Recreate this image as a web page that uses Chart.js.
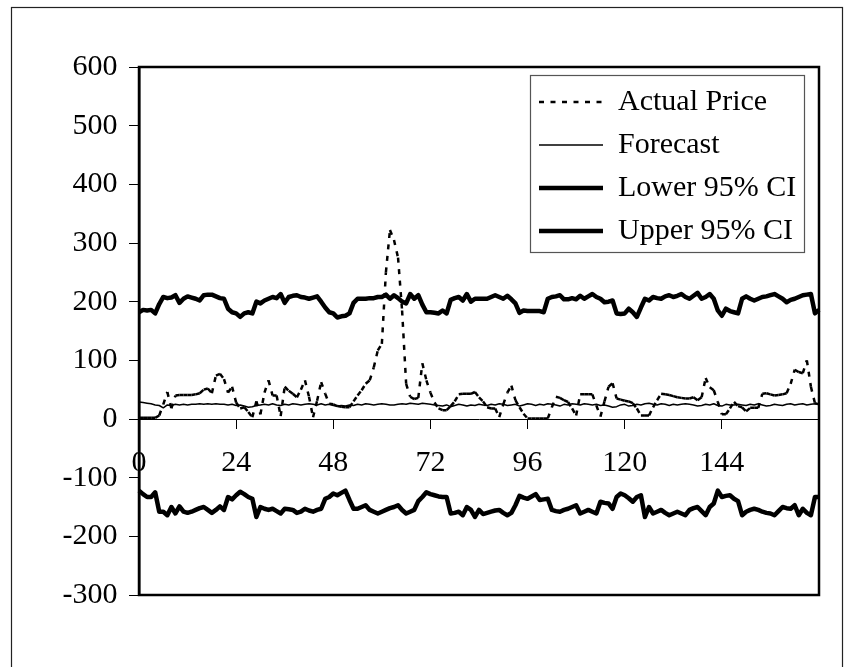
<!DOCTYPE html>
<html>
<head>
<meta charset="utf-8">
<script src="https://cdn.jsdelivr.net/npm/chart.js@4/dist/chart.umd.min.js"></script>
<style>
  html, body { margin: 0; padding: 0; background: #fff; }
  canvas { display: block; }
</style>
</head>
<body>
<canvas id="c" width="856" height="667"></canvas>
<script>
// Hours of the week-long horizon (0 .. 168)
const hours = Array.from({ length: 169 }, (_, i) => i);
const xTickLabels = [0, 24, 48, 72, 96, 120, 144];
const yMin = -300, yMax = 600, yStep = 100;
const seriesNames = ['Actual Price', 'Forecast', 'Lower 95% CI', 'Upper 95% CI'];

const actualPrice = [
  2, 2, 2, 2, 2, 6, 25, 46, 18, 40, 41, 41,
  41, 41, 42, 44, 50, 52, 44, 74, 77, 68, 45, 55,
  28, 18, 20, 12, 3, 30, 8, 45, 66, 40, 40, 5,
  55, 48, 43, 37, 50, 66, 38, 3, 31, 63, 43, 26,
  25, 22, 21, 20, 20, 30, 40, 49, 60, 66, 88, 117,
  128, 250, 322, 305, 275, 185, 60, 38, 34, 36, 95, 66,
  45, 28, 18, 15, 15, 22, 30, 42, 43, 43, 43, 46,
  37, 30, 20, 18, 18, 3, 25, 45, 57, 32, 20, 9,
  1, 1, 1, 1, 1, 1, 20, 38, 36, 32, 29, 18,
  6, 42, 42, 42, 42, 23, 4, 30, 55, 61, 35, 33,
  31, 30, 27, 18, 6, 6, 6, 20, 32, 43, 42, 41,
  39, 37, 36, 35, 35, 37, 32, 37, 70, 54, 49, 29,
  8, 8, 18, 29, 22, 20, 13, 19, 19, 19, 43, 44,
  42, 40, 41, 42, 44, 60, 84, 80, 78, 100, 55, 27,
  25
];

const forecast = [
  29, 28, 27, 26, 24, 23, 19, 24, 23, 25, 24, 25,
  24, 25, 25, 26, 25, 26, 25, 26, 25, 25, 24, 25,
  23, 24, 22, 20, 21, 23, 24, 25, 24, 26, 24, 23,
  25, 24, 26, 25, 24, 25, 26, 25, 24, 26, 24, 25,
  23, 22, 23, 22, 24, 23, 25, 24, 26, 25, 24, 25,
  26, 25, 24, 24, 25, 26, 25, 27, 26, 25, 27, 26,
  25, 24, 23, 22, 24, 21, 23, 25, 24, 22, 24, 23,
  25, 24, 23, 25, 24, 26, 25, 23, 24, 25, 22, 24,
  26, 25, 23, 25, 24, 26, 25, 24, 22, 25, 24, 26,
  25, 24, 26, 25, 24, 25, 23, 24, 22, 20, 21, 24,
  25, 22, 23, 25, 24, 26, 27, 25, 24, 26, 25, 23,
  25, 24, 25, 26, 25, 24, 22, 23, 25, 24, 26, 23,
  22, 25, 24, 24, 25, 24, 23, 25, 24, 26, 24, 22,
  23, 25, 24, 23, 25, 26, 24, 25, 26, 24, 25, 26,
  25
];

const lower95 = [
  -122, -128, -133, -133, -125, -158, -158, -164, -150, -161, -149, -158,
  -160, -158, -155, -152, -150, -155, -160, -155, -149, -155, -133, -137,
  -130, -124, -128, -133, -136, -167, -150, -153, -155, -153, -157, -161,
  -153, -154, -155, -160, -158, -153, -156, -158, -155, -153, -136, -133,
  -127, -130, -126, -122, -138, -153, -153, -150, -147, -155, -158, -161,
  -158, -155, -152, -150, -147, -155, -161, -158, -155, -140, -133, -125,
  -128, -130, -132, -133, -133, -161, -160, -158, -164, -150, -155, -167,
  -155, -162, -160, -158, -156, -155, -160, -164, -160, -147, -131, -134,
  -136, -132, -128, -138, -137, -136, -155, -157, -158, -155, -153, -150,
  -147, -161, -158, -155, -158, -161, -141, -143, -144, -153, -133, -127,
  -130, -135, -141, -133, -130, -167, -150, -161, -158, -155, -160, -164,
  -161, -158, -161, -164, -155, -152, -150, -157, -164, -150, -144, -122,
  -133, -131, -130, -136, -140, -164, -158, -155, -153, -155, -158, -160,
  -161, -164, -157, -150, -152, -153, -147, -164, -153, -160, -164, -133,
  -133
];

const upper95 = [
  182, 186, 185, 186, 180, 196, 208, 206, 207, 211, 198, 205,
  209, 207, 205, 202, 211, 212, 212, 209, 206, 205, 188, 182,
  180, 174, 180, 182, 180, 200, 197, 202, 205, 208, 206, 213,
  198, 208, 210, 211, 208, 207, 205, 207, 209, 200, 190, 182,
  180, 173, 175, 176, 180, 198, 205, 205, 205, 206, 206, 208,
  208, 212, 205, 211, 206, 200, 197, 213, 205, 211, 195, 182,
  182, 181, 180, 185, 180, 203, 206, 208, 202, 213, 200, 205,
  205, 205, 205, 208, 211, 208, 205, 210, 204, 197, 181, 185,
  184, 184, 184, 184, 182, 205, 208, 209, 211, 204, 204, 206,
  204, 210, 205, 209, 213, 208, 205, 199, 200, 202, 180, 179,
  180, 188, 182, 174, 190, 205, 202, 208, 206, 205, 209, 211,
  208, 210, 213, 208, 205, 210, 215, 205, 208, 213, 205, 185,
  176, 188, 184, 182, 180, 205, 209, 205, 202, 205, 208, 209,
  211, 213, 209, 205, 199, 203, 205, 208, 211, 212, 213, 180,
  186
];

const FONT = { family: "'Liberation Serif', 'Times New Roman', serif", size: 30 };

// Frames: plot border, legend box and the outer chart border
const frames = {
  id: 'frames',
  afterLayout(chart) {
    const lg = chart.legend;
    if (!lg) return;
    const w = lg.width, h = lg.height;
    lg.left = 526; lg.top = 74;
    lg.right = lg.left + w; lg.bottom = lg.top + h;
  },
  beforeDatasetsDraw(chart) {
    const { ctx, chartArea: a } = chart;
    ctx.save();
    ctx.strokeStyle = '#000';
    ctx.lineWidth = 2.5;
    ctx.strokeRect(a.left, a.top, a.right - a.left, a.bottom - a.top);
    ctx.restore();
  },
  afterDraw(chart) {
    const { ctx } = chart;
    ctx.save();
    ctx.strokeStyle = '#555';
    ctx.lineWidth = 1.2;
    ctx.strokeRect(530.5, 75.5, 274, 177);
    ctx.strokeStyle = '#222';
    ctx.lineWidth = 1.2;
    ctx.strokeRect(11.5, 7.5, 831, 700);
    ctx.restore();
  }
};

// Legend samples take width and dash straight from each dataset's line
function legendLabels(chart) {
  const items = Chart.defaults.plugins.legend.labels.generateLabels(chart);
  return items.map(item => {
    const ds = chart.data.datasets[item.datasetIndex];
    item.lineWidth = ds.borderWidth;
    item.lineDash = ds.borderDash || [];
    item.lineDashOffset = 0;
    item.strokeStyle = ds.borderColor;
    item.pointStyle = 'line';
    return item;
  });
}

new Chart(document.getElementById('c'), {
  type: 'line',
  data: {
    labels: hours,
    datasets: [
      {
        label: seriesNames[0], data: actualPrice,
        borderColor: '#000', borderWidth: 2.5, borderDash: [5, 6.5],
        // every step is stroked on its own, so the dash pattern restarts per step
        segment: { borderDashOffset: c => (c.p0DataIndex % 2) * 0.01 }
      },
      { label: seriesNames[1], data: forecast, borderColor: '#000', borderWidth: 1.5 },
      { label: seriesNames[2], data: lower95, borderColor: '#000', borderWidth: 4.5 },
      { label: seriesNames[3], data: upper95, borderColor: '#000', borderWidth: 4.5 }
    ]
  },
  options: {
    responsive: false,
    animation: false,
    events: [],
    layout: { padding: { top: 67, right: 37, bottom: 72, left: 0 } },
    elements: {
      point: { radius: 0 },
      line: { tension: 0, fill: false, borderJoinStyle: 'round' }
    },
    scales: {
      x: {
        type: 'category',
        position: { y: 0 },
        offset: false,
        grid: { drawOnChartArea: false, drawTicks: true, tickLength: 9, color: '#000', lineWidth: 1 },
        border: { display: true, color: '#000', width: 1 },
        ticks: {
          autoSkip: false, maxRotation: 0, minRotation: 0, padding: 17,
          color: '#000', font: FONT,
          callback: (v, i) => xTickLabels.includes(hours[i]) ? String(hours[i]) : null
        }
      },
      y: {
        min: yMin, max: yMax,
        position: 'left',
        afterFit: s => { s.width = 139; },
        grid: { drawOnChartArea: false, tickLength: 10, color: '#000', lineWidth: 1 },
        border: { color: '#000', width: 2.5 },
        ticks: { stepSize: yStep, padding: 11.5, color: '#000', font: FONT }
      }
    },
    plugins: {
      tooltip: { enabled: false },
      legend: {
        position: 'chartArea',
        align: 'start',
        labels: {
          usePointStyle: true, pointStyle: 'line', pointStyleWidth: 64,
          padding: 13, color: '#000', font: FONT,
          generateLabels: legendLabels
        }
      }
    }
  },
  plugins: [frames]
});
</script>
</body>
</html>
